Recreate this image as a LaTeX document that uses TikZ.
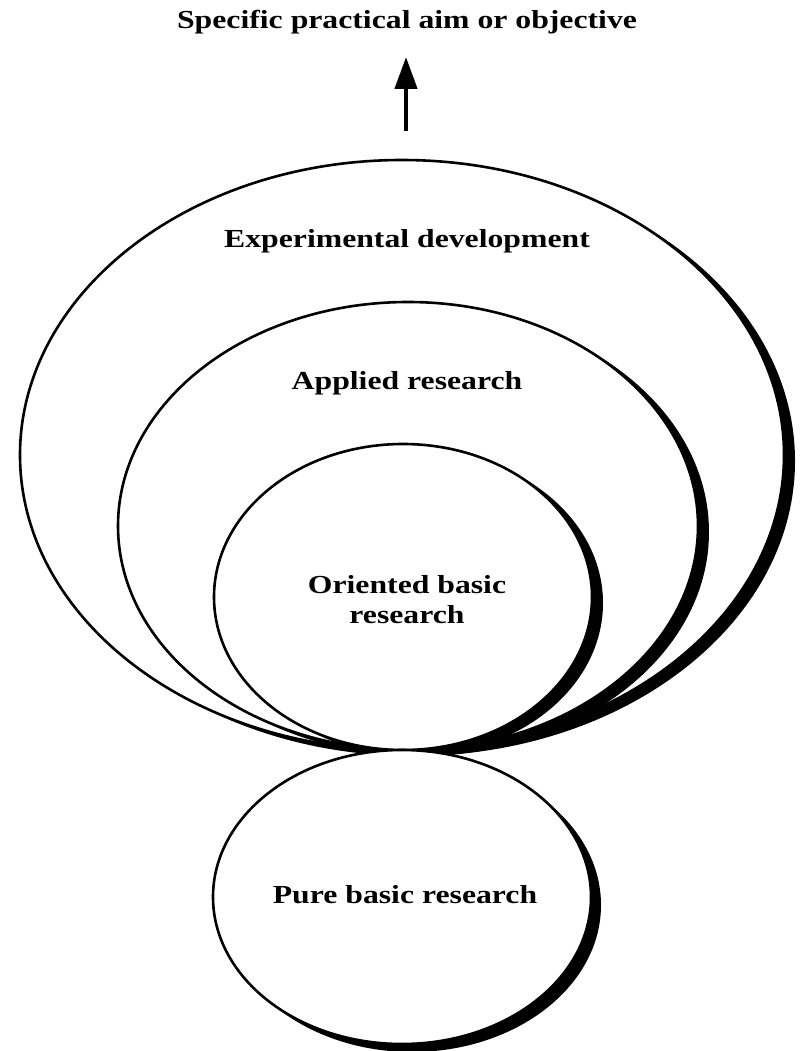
\documentclass[tikz,border=0pt]{standalone}
\usepackage{fontspec}
\setmainfont{Liberation Serif}
\usetikzlibrary{shapes.geometric,arrows.meta}
\newcommand{\widetext}[1]{\scalebox{1.22}[1]{#1}}
\begin{document}
\begin{tikzpicture}[x=1pt,y=-1pt,
  rim/.style={ellipse, inner sep=0pt, outer sep=0pt, line width=2.6pt,
    draw=black, fill=white,
    preaction={fill=black, transform canvas={shift={(#1)}}}},
  rim/.default={11pt,-6pt},
  lbl/.style={font=\fontsize{26}{30}\selectfont\bfseries, align=center, inner sep=0pt}]
  \useasboundingbox[fill=white] (0,0) rectangle (804,1051);

  % nested research domains, all touching at the bottom
  \node[rim, minimum width=764pt, minimum height=590pt] (exp) at (402,455) {};
  \node[rim, minimum width=580pt, minimum height=448pt] (app) at (408,526) {};
  \node[rim, minimum width=378pt, minimum height=306pt] (ori) at (403,597) {};
  % pure basic research below the touching point
  \node[rim={10pt,-8pt}, minimum width=378pt, minimum height=294pt] (pure) at (402,897) {};

  % labels
  \node[lbl] (tExp) at (407,241) {\widetext{Experimental development}};
  \node[lbl] (tApp) at (407,383) {\widetext{Applied research}};
  \node[lbl] (tOri) at (407,600) {\widetext{Oriented basic}\\\widetext{research}};
  \node[lbl] (tPure) at (405,895) {\widetext{Pure basic research}};
  \node[lbl] (aim) at (407,22) {\widetext{Specific practical aim or objective}};

  % direction of increasing practical orientation
  \coordinate (base) at (406,131);
  \coordinate (tip) at (406,57);
  \draw[line width=4.5pt, -{Triangle[length=32pt,width=22pt]}] (base) -- (tip);
\end{tikzpicture}
\end{document}
